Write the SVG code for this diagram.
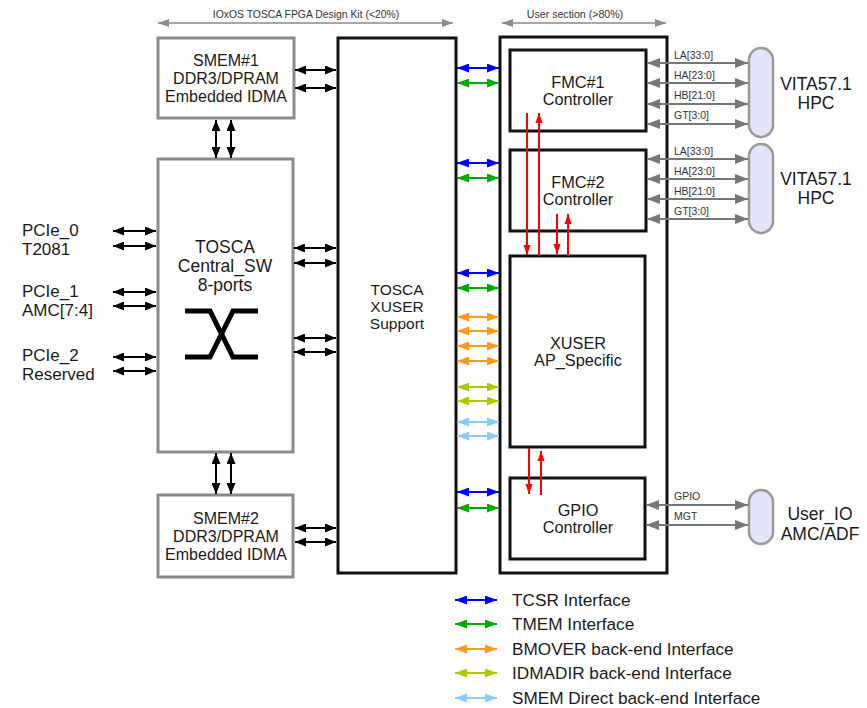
<svg xmlns="http://www.w3.org/2000/svg" width="867" height="708" viewBox="0 0 867 708">
<style>
text{font-family:"Liberation Sans",Arial,sans-serif;fill:#1a1a1a}
.big{font-size:16px;text-anchor:middle}
.lg{font-size:17.5px;text-anchor:middle}
.lft{font-size:17px}
.mid{font-size:16.3px;text-anchor:middle}
.sup{font-size:15.5px;text-anchor:middle}
.sm{font-size:10.5px;fill:#333}
.hdr{fill:#333;text-anchor:middle}
.leg{font-size:17.2px}
.gbox{fill:#fff;stroke:#8a8a8a;stroke-width:3}
.kbox{fill:#fff;stroke:#111;stroke-width:3}
.pill{fill:#e4e4f8;stroke:#9a9a9a;stroke-width:2.5}
.k{stroke:#000;stroke-width:2;marker-start:url(#mk);marker-end:url(#mk)}
.g{stroke:#777;stroke-width:2;marker-start:url(#mg);marker-end:url(#mg)}
.h{stroke:#8a8a8a;stroke-width:1.5;marker-start:url(#mh);marker-end:url(#mh)}
.b{stroke:#0000ff;stroke-width:2;marker-start:url(#mb);marker-end:url(#mb)}
.gr{stroke:#00aa00;stroke-width:2;marker-start:url(#mgr);marker-end:url(#mgr)}
.o{stroke:#ff9a1e;stroke-width:2;marker-start:url(#mo);marker-end:url(#mo)}
.y{stroke:#a8cc00;stroke-width:2;marker-start:url(#my);marker-end:url(#my)}
.lb{stroke:#88ccff;stroke-width:2;marker-start:url(#mlb);marker-end:url(#mlb)}
.r{stroke:#ff0000;stroke-width:2;marker-end:url(#mr)}
</style>
<defs>
<marker id="mk" markerUnits="userSpaceOnUse" viewBox="0 0 11 9" refX="11" refY="4.5" markerWidth="11" markerHeight="9" orient="auto-start-reverse"><path d="M0,0 L11,4.5 L0,9 z" fill="#000"/></marker>
<marker id="mg" markerUnits="userSpaceOnUse" viewBox="0 0 13 10" refX="13" refY="5" markerWidth="13" markerHeight="10" orient="auto-start-reverse"><path d="M0,0 L13,5 L0,10 z" fill="#777"/></marker>
<marker id="mh" markerUnits="userSpaceOnUse" viewBox="0 0 11 8" refX="11" refY="4" markerWidth="11" markerHeight="8" orient="auto-start-reverse"><path d="M0,0 L11,4 L0,8 z" fill="#8a8a8a"/></marker>
<marker id="mb" markerUnits="userSpaceOnUse" viewBox="0 0 12 9" refX="12" refY="4.5" markerWidth="12" markerHeight="9" orient="auto-start-reverse"><path d="M0,0 L12,4.5 L0,9 z" fill="#0000ff"/></marker>
<marker id="mgr" markerUnits="userSpaceOnUse" viewBox="0 0 12 9" refX="12" refY="4.5" markerWidth="12" markerHeight="9" orient="auto-start-reverse"><path d="M0,0 L12,4.5 L0,9 z" fill="#00aa00"/></marker>
<marker id="mo" markerUnits="userSpaceOnUse" viewBox="0 0 12 9" refX="12" refY="4.5" markerWidth="12" markerHeight="9" orient="auto-start-reverse"><path d="M0,0 L12,4.5 L0,9 z" fill="#ff9a1e"/></marker>
<marker id="my" markerUnits="userSpaceOnUse" viewBox="0 0 12 9" refX="12" refY="4.5" markerWidth="12" markerHeight="9" orient="auto-start-reverse"><path d="M0,0 L12,4.5 L0,9 z" fill="#a8cc00"/></marker>
<marker id="mlb" markerUnits="userSpaceOnUse" viewBox="0 0 12 9" refX="12" refY="4.5" markerWidth="12" markerHeight="9" orient="auto-start-reverse"><path d="M0,0 L12,4.5 L0,9 z" fill="#88ccff"/></marker>
<marker id="mr" markerUnits="userSpaceOnUse" viewBox="0 0 10 14" refX="14" refY="5" markerWidth="14" markerHeight="10" orient="auto"><path d="M0,0 L14,5 L0,10 z" fill="#ff0000"/></marker>
</defs>

<g id="headers">
<text class="hdr" x="306" y="18" style="font-size:10.4px">IOxOS TOSCA FPGA Design Kit (&lt;20%)</text>
<line class="h" x1="158" y1="23" x2="453" y2="23"/>
<text class="hdr" x="575" y="18" style="font-size:10.6px">User section (&gt;80%)</text>
<line class="h" x1="502" y1="23" x2="666" y2="23"/>
</g>

<g id="smem1"><rect class="gbox" x="158" y="38" width="136" height="80"/>
<text class="big" x="226" y="66">SMEM#1</text><text class="big" x="226" y="84">DDR3/DPRAM</text><text class="big" x="226" y="102">Embedded IDMA</text></g>

<g id="central_sw"><rect class="gbox" x="158" y="159" width="135" height="293"/>
<text class="lg" x="225" y="253">TOSCA</text><text class="lg" x="225" y="272">Central_SW</text><text class="lg" x="225" y="291">8-ports</text>
<path d="M185,311 H210 L233,357 H258 M185,357 H210 L233,311 H258" fill="none" stroke="#000" stroke-width="5"/></g>

<g id="smem2"><rect class="gbox" x="158" y="495" width="135" height="82"/>
<text class="big" x="226" y="524">SMEM#2</text><text class="big" x="226" y="542">DDR3/DPRAM</text><text class="big" x="226" y="560">Embedded IDMA</text></g>

<g id="pcie_labels">
<text class="lft" x="22" y="236">PCIe_0</text><text class="lft" x="22" y="255">T2081</text>
<text class="lft" x="22" y="297">PCIe_1</text><text class="lft" x="22" y="316">AMC[7:4]</text>
<text class="lft" x="22" y="361">PCIe_2</text><text class="lft" x="22" y="380">Reserved</text>
</g>

<g id="xuser_support"><rect class="kbox" x="338" y="38" width="118" height="535"/>
<text class="sup" x="397" y="295">TOSCA</text><text class="sup" x="397" y="312">XUSER</text><text class="sup" x="397" y="329">Support</text></g>

<g id="user_section"><rect class="kbox" x="500" y="37" width="167" height="536"/></g>

<g id="fmc1"><rect class="kbox" x="510" y="50" width="136" height="81"/>
<text class="mid" x="578" y="88">FMC#1</text><text class="mid" x="578" y="105">Controller</text></g>
<g id="fmc2"><rect class="kbox" x="510" y="150" width="136" height="81"/>
<text class="mid" x="578" y="188">FMC#2</text><text class="mid" x="578" y="205">Controller</text></g>
<g id="xuser_ap"><rect class="kbox" x="510" y="256" width="135" height="191"/>
<text class="mid" x="578" y="349">XUSER</text><text class="mid" x="578" y="366">AP_Specific</text></g>
<g id="gpio"><rect class="kbox" x="510" y="478" width="135" height="81"/>
<text class="mid" x="578" y="516">GPIO</text><text class="mid" x="578" y="533">Controller</text></g>

<g id="vita1"><rect class="pill" x="749" y="48" width="24" height="89" rx="12"/>
<text class="lg" x="816" y="90">VITA57.1</text><text class="lg" x="816" y="109">HPC</text></g>
<g id="vita2"><rect class="pill" x="749" y="144" width="24" height="89" rx="12"/>
<text class="lg" x="816" y="185">VITA57.1</text><text class="lg" x="816" y="204">HPC</text></g>
<g id="user_io"><rect class="pill" x="749" y="490" width="24" height="54" rx="12"/>
<text class="lg" x="820" y="520">User_IO</text><text class="lg" x="820" y="540">AMC/ADF</text></g>

<g id="connectors">
<line class="k" x1="295" y1="70" x2="336" y2="70"/>
<line class="k" x1="295" y1="88" x2="336" y2="88"/>
<line class="k" x1="216" y1="120" x2="216" y2="158"/>
<line class="k" x1="231" y1="120" x2="231" y2="158"/>
<line class="k" x1="216" y1="453" x2="216" y2="494"/>
<line class="k" x1="231" y1="453" x2="231" y2="494"/>
<line class="k" x1="295" y1="528" x2="336" y2="528"/>
<line class="k" x1="295" y1="542" x2="336" y2="542"/>
<line class="k" x1="294" y1="248" x2="336" y2="248"/>
<line class="k" x1="294" y1="263" x2="336" y2="263"/>
<line class="k" x1="294" y1="338" x2="336" y2="338"/>
<line class="k" x1="294" y1="352" x2="336" y2="352"/>
<line class="k" x1="113" y1="231" x2="156" y2="231"/>
<line class="k" x1="113" y1="246" x2="156" y2="246"/>
<line class="k" x1="113" y1="292" x2="156" y2="292"/>
<line class="k" x1="113" y1="306" x2="156" y2="306"/>
<line class="k" x1="113" y1="357" x2="156" y2="357"/>
<line class="k" x1="113" y1="371" x2="156" y2="371"/>

<line class="b" x1="457" y1="68" x2="499" y2="68"/>
<line class="gr" x1="457" y1="83" x2="499" y2="83"/>
<line class="b" x1="457" y1="163" x2="499" y2="163"/>
<line class="gr" x1="457" y1="178" x2="499" y2="178"/>
<line class="b" x1="457" y1="273" x2="499" y2="273"/>
<line class="gr" x1="457" y1="288" x2="499" y2="288"/>
<line class="o" x1="457" y1="317" x2="499" y2="317"/>
<line class="o" x1="457" y1="331" x2="499" y2="331"/>
<line class="o" x1="457" y1="346" x2="499" y2="346"/>
<line class="o" x1="457" y1="361" x2="499" y2="361"/>
<line class="y" x1="457" y1="387" x2="499" y2="387"/>
<line class="y" x1="457" y1="401" x2="499" y2="401"/>
<line class="lb" x1="457" y1="422" x2="499" y2="422"/>
<line class="lb" x1="457" y1="436" x2="499" y2="436"/>
<line class="b" x1="457" y1="492" x2="499" y2="492"/>
<line class="gr" x1="457" y1="508" x2="499" y2="508"/>

<line class="r" x1="527" y1="113" x2="527" y2="255"/>
<line class="r" x1="539" y1="256" x2="539" y2="113"/>
<line class="r" x1="557" y1="214" x2="557" y2="254"/>
<line class="r" x1="568" y1="256" x2="568" y2="214"/>
<line class="r" x1="529" y1="448" x2="529" y2="494"/>
<line class="r" x1="541" y1="495" x2="541" y2="451"/>

<line class="g" x1="647" y1="63" x2="748" y2="63"/>
<line class="g" x1="647" y1="83" x2="748" y2="83"/>
<line class="g" x1="647" y1="104" x2="748" y2="104"/>
<line class="g" x1="647" y1="124" x2="748" y2="124"/>
<line class="g" x1="647" y1="159" x2="748" y2="159"/>
<line class="g" x1="647" y1="179" x2="748" y2="179"/>
<line class="g" x1="647" y1="199" x2="748" y2="199"/>
<line class="g" x1="647" y1="219" x2="748" y2="219"/>
<line class="g" x1="646" y1="505" x2="748" y2="505"/>
<line class="g" x1="646" y1="525" x2="748" y2="525"/>
<text class="sm" x="674" y="59">LA[33:0]</text>
<text class="sm" x="674" y="79">HA[23:0]</text>
<text class="sm" x="674" y="99">HB[21:0]</text>
<text class="sm" x="674" y="119">GT[3:0]</text>
<text class="sm" x="674" y="155">LA[33:0]</text>
<text class="sm" x="674" y="175">HA[23:0]</text>
<text class="sm" x="674" y="195">HB[21:0]</text>
<text class="sm" x="674" y="215">GT[3:0]</text>
<text class="sm" x="674" y="500">GPIO</text>
<text class="sm" x="674" y="520">MGT</text>
</g>

<g id="legend">
<line class="b" x1="455" y1="600" x2="497" y2="600"/>
<line class="gr" x1="455" y1="624" x2="497" y2="624"/>
<line class="o" x1="455" y1="649" x2="497" y2="649"/>
<line class="y" x1="455" y1="673" x2="497" y2="673"/>
<line class="lb" x1="455" y1="698" x2="497" y2="698"/>
<text class="leg" x="512" y="606">TCSR Interface</text>
<text class="leg" x="512" y="630">TMEM Interface</text>
<text class="leg" x="512" y="655">BMOVER back-end Interface</text>
<text class="leg" x="512" y="679">IDMADIR back-end Interface</text>
<text class="leg" x="512" y="704">SMEM Direct back-end Interface</text>
</g>
</svg>
